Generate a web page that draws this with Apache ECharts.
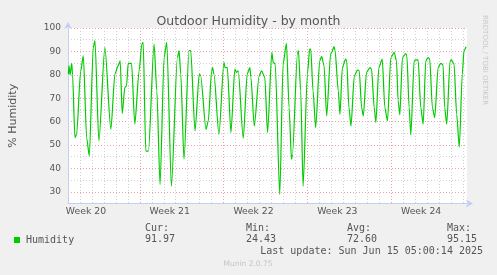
<!DOCTYPE html>
<html>
<head>
<meta charset="utf-8">
<script src="https://cdn.jsdelivr.net/npm/echarts@6/dist/echarts.min.js"></script>
<style>
  html, body { margin: 0; padding: 0; background: #f0f0f0; }
  #chart { width: 497px; height: 275px; }
</style>
</head>
<body>
<div id="chart"></div>
<script>
// days since the left edge of the graph (week lines fall on day 5, 12, 19, 26, 33)
const dayOffsets = [
  0.03, 0.08, 0.17, 0.31, 0.38, 0.58, 0.72, 1.06, 1.28, 1.56, 1.78, 2.11, 2.25, 2.58,
  3.08, 3.58, 3.92, 4.19, 4.36, 4.53, 4.75, 4.89, 5.03, 5.31, 5.58, 5.94, 6.17, 6.28,
  6.5, 6.72, 7.19, 7.42, 7.69, 8.03, 8.25, 8.64, 9.14, 9.28, 9.42, 9.69, 10.11, 10.25,
  10.61, 10.97, 11.08, 11.53, 11.72, 12.0, 12.08, 12.19, 12.61, 13.03, 13.11, 13.31,
  13.61, 13.94, 14.08, 14.22, 14.64, 14.97, 15.19, 15.28, 15.56, 15.97, 16.17, 16.44,
  16.67, 17.03, 17.14, 17.31, 17.69, 17.97, 18.25, 18.47, 18.67, 18.75, 19.17, 19.25,
  19.44, 19.64, 20.0, 20.19, 20.28, 20.47, 20.69, 21.03, 21.19, 21.39, 21.61, 21.94,
  22.03, 22.22, 22.31, 22.58, 22.72, 22.92, 23.19, 23.28, 23.47, 23.64, 23.92, 24.19,
  24.33, 24.53, 24.67, 24.94, 25.22, 25.36, 25.58, 25.72, 25.97, 26.25, 26.47, 26.69,
  26.97, 27.25, 27.44, 27.58, 27.72, 27.94, 28.22, 28.31, 28.5, 28.64, 28.92, 29.06,
  29.25, 29.47, 29.67, 29.89, 30.08, 30.22, 30.44, 30.64, 30.92, 31.14, 31.33, 31.47,
  31.64, 31.92, 32.03, 32.25, 32.47, 32.69, 32.94, 33.08, 33.25,
]
const humidity = [
  80.3, 83.9, 80.0, 84.9, 80.0, 53.1, 54.6, 81.7, 88.1, 53.0, 45.3, 91.7, 94.6, 51.7,
  91.7, 56.7, 80.3, 83.9, 86.0, 63.4, 74.6, 75.3, 84.9, 84.9, 58.9, 81.7, 93.1, 93.9,
  47.4, 47.4, 93.1, 73.1, 33.1, 87.4, 93.9, 32.4, 87.4, 90.3, 80.3, 43.9, 90.3, 90.3,
  56.0, 80.3, 79.6, 56.7, 60.3, 81.7, 83.1, 80.3, 54.6, 85.3, 83.1, 83.1,
  55.3, 82.4, 81.0, 81.7, 52.9, 80.3, 83.1, 78.9, 58.1, 79.6, 81.7, 78.9,
  55.3, 89.6, 85.3, 84.6, 28.9, 84.6, 93.4, 66.0, 43.9, 46.0, 88.9, 90.3,
  73.1, 32.4, 80.3, 91.0, 91.0, 73.1, 57.4, 86.0, 87.9, 83.9, 62.4, 88.9,
  89.6, 92.0, 90.3, 73.1, 63.1, 83.1, 86.7, 86.0, 66.0, 58.1, 79.6, 82.0,
  81.7, 66.0, 62.4, 81.0, 83.1, 82.4, 66.0, 59.6, 83.1, 86.7, 66.0, 60.3,
  87.4, 89.6, 86.0, 68.9, 62.9, 87.4, 89.1, 88.1, 66.0, 54.3, 86.0, 86.4,
  86.4, 66.0, 58.9, 86.0, 87.4, 86.7, 66.0, 61.7, 83.1, 84.9, 84.3, 66.0,
  58.9, 86.0, 86.4, 84.6, 63.1, 49.1, 80.3, 90.3, 92.0,
]

const weekCenters = [1.5, 8.5, 15.5, 22.5, 29.5]
const weekLabels = ['Week 20', 'Week 21', 'Week 22', 'Week 23', 'Week 24']

const statNames = ['Cur:', 'Min:', 'Avg:', 'Max:']
const statValues = ['91.97', '24.43', '72.60', '95.15']
const lastUpdate = 'Last update: Sun Jun 15 05:00:14 2025'

const statX = [145, 246, 347, 447]

const gridGray = '#d2d2d2'
const gridRed = '#e9a3a3'
const axisBlue = '#c5cdf5'
const textColor = '#555'

const myChart = echarts.init(document.getElementById('chart'))

const graphics = []
statNames.forEach((name, i) => {
  graphics.push({
    type: 'text',
    style: { text: name, x: statX[i], y: 228, font: '10px "DejaVu Sans Mono"', fill: textColor, verticalAlign: 'middle' },
  })
  graphics.push({
    type: 'text',
    style: { text: statValues[i], x: statX[i], y: 239.5, font: '10px "DejaVu Sans Mono"', fill: textColor, verticalAlign: 'middle' },
  })
})
graphics.push({
  type: 'text',
  style: { text: lastUpdate, x: 483, y: 251.5, font: '10px "DejaVu Sans Mono"', fill: textColor, align: 'right', verticalAlign: 'middle' },
})
graphics.push({
  type: 'text',
  style: { text: 'Munin 2.0.75', x: 248, y: 264, font: '7.5px "DejaVu Sans"', fill: '#c4c4c4', align: 'center', verticalAlign: 'middle' },
})
graphics.push({
  type: 'text',
  x: 485,
  y: 15,
  rotation: -Math.PI / 2,
  style: { text: 'RRDTOOL / TOBI OETIKER', x: 0, y: 0, font: '7px "DejaVu Sans"', fill: '#c8c8c8', align: 'left', verticalAlign: 'middle' },
})

const option = {
  backgroundColor: '#f0f0f0',
  animation: false,
  title: {
    text: 'Outdoor Humidity - by month',
    left: 'center',
    top: 10,
    textStyle: { fontFamily: 'DejaVu Sans', fontSize: 12.5, fontWeight: 'normal', color: textColor },
  },
  grid: {
    left: 67,
    right: 30,
    top: 28,
    bottom: 71.5,
    show: true,
    backgroundColor: '#fff',
    borderWidth: 0,
  },
  legend: {
    data: ['Humidity'],
    left: 14,
    top: 235,
    padding: 0,
    icon: 'rect',
    itemWidth: 6,
    itemHeight: 6,
    itemGap: 5,
    textStyle: { fontFamily: 'DejaVu Sans Mono', fontSize: 10, color: textColor, padding: [0, 0, 0, 1] },
  },
  xAxis: {
    type: 'value',
    min: 0,
    max: 33.333,
    interval: 1,
    axisLine: {
      show: true,
      lineStyle: { color: axisBlue, width: 1 },
      symbol: ['none', 'arrow'],
      symbolSize: [6, 7],
      symbolOffset: [0, 6],
    },
    axisTick: { show: false },
    axisLabel: {
      customValues: weekCenters,
      formatter: (v) => weekLabels[weekCenters.indexOf(v)] || '',
      fontFamily: 'DejaVu Sans',
      fontSize: 9.3,
      color: textColor,
      margin: 4,
    },
    splitLine: {
      show: true,
      showMinLine: false,
      showMaxLine: false,
      lineStyle: {
        color: [gridGray, gridGray, gridGray, gridGray, gridGray, gridRed, gridGray],
        type: [1, 2],
        width: 1,
      },
    },
  },
  yAxis: {
    type: 'value',
    min: 25,
    max: 100,
    interval: 5,
    name: '% Humidity',
    nameLocation: 'middle',
    nameGap: 49,
    nameTextStyle: { fontFamily: 'DejaVu Sans', fontSize: 11, color: textColor },
    axisLine: {
      show: true,
      lineStyle: { color: axisBlue, width: 1 },
      symbol: ['none', 'arrow'],
      symbolSize: [6, 7],
      symbolOffset: [0, 6],
    },
    axisTick: { show: false },
    axisLabel: {
      formatter: (v) => (v % 10 === 0 ? String(v) : ''),
      fontFamily: 'DejaVu Sans',
      fontSize: 9,
      color: textColor,
      margin: 7,
    },
    splitLine: {
      show: true,
      showMinLine: true,
      showMaxLine: true,
      lineStyle: { color: [gridGray, gridRed], type: [1, 2], width: 1 },
    },
  },
  series: [
    {
      name: 'Humidity',
      type: 'line',
      showSymbol: false,
      symbol: 'none',
      smooth: 0.25,
      smoothMonotone: 'x',
      color: '#00cc00',
      lineStyle: { color: '#00cc00', width: 1.2 },
      data: dayOffsets.map((d, i) => [d, humidity[i]]),
    },
  ],
  graphic: graphics,
}

myChart.setOption(option)
</script>
</body>
</html>
